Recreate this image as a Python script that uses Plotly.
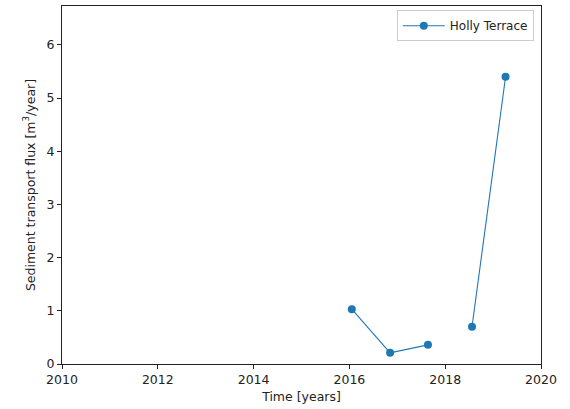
import plotly.graph_objects as go

# Survey epochs (decimal years) and sediment transport flux; None marks a gap
years = [2016.05, 2016.85, 2017.64, None, 2018.56, 2019.26]
flux = [1.03, 0.21, 0.36, None, 0.70, 5.40]

x_ticks = [2010, 2012, 2014, 2016, 2018, 2020]
y_ticks = [0, 1, 2, 3, 4, 5, 6]

blue = "#1f77b4"
font = dict(family="DejaVu Sans", size=12.5, color="#222222")

fig = go.Figure()
fig.add_trace(go.Scatter(
    x=years, y=flux, mode="lines+markers", name="Holly Terrace",
    connectgaps=False,
    line=dict(color=blue, width=1.1),
    marker=dict(color=blue, size=8),
))

axis_common = dict(
    showline=True, linecolor="#222222", linewidth=1.2, mirror=True,
    ticks="outside", ticklen=4, tickwidth=1, tickcolor="#222222",
    showgrid=False, zeroline=False, tickfont=font,
)

fig.update_layout(
    width=570, height=409,
    margin=dict(l=62, r=29, t=6, b=45),
    paper_bgcolor="white", plot_bgcolor="white",
    font=font,
    showlegend=True,
    legend=dict(
        x=0.985, y=0.988, xanchor="right", yanchor="top",
        itemwidth=42,
        bgcolor="rgba(255,255,255,0.8)", bordercolor="#cccccc", borderwidth=1,
        font=dict(family="DejaVu Sans", size=12, color="#222222"),
    ),
    xaxis=dict(range=[2010, 2020], tickvals=x_ticks,
               title=dict(text="Time [years]", standoff=6, font=font),
               **axis_common),
    yaxis=dict(range=[0, 6.73], tickvals=y_ticks,
               title=dict(text="Sediment transport flux [m<sup>3</sup>/year]",
                          standoff=8, font=font),
               **axis_common),
)

fig.write_html("out.html")
